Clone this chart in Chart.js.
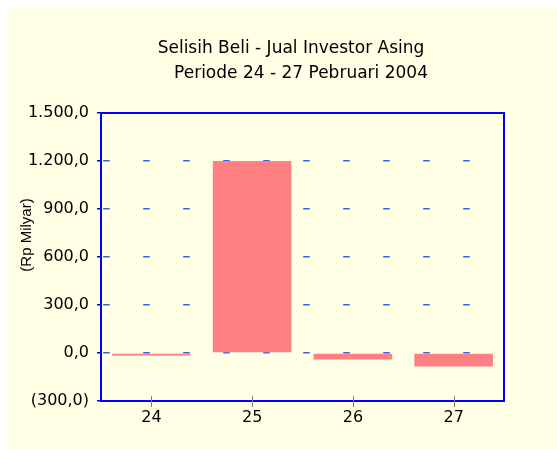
<!DOCTYPE html>
<html><head><meta charset="utf-8">
<script src="https://cdn.jsdelivr.net/npm/chart.js@4"></script>
<style>
html,body{margin:0;padding:0;background:#ffffff;}
#wrap{position:absolute;left:8px;top:8px;width:549px;height:441px;background:#FFFFE6;}
canvas{display:block;}
</style></head>
<body>
<div id="wrap"><canvas id="c" width="549" height="441"></canvas></div>
<script>
const categories = ['24', '25', '26', '27'];
const values = [-15, 1200, -40, -84];
const yMin = -300, yMax = 1500, yStep = 300;
const titleLines = ['Selisih Beli - Jual Investor Asing', 'Periode 24 - 27 Pebruari 2004'];
const yAxisLabel = '(Rp Milyar)';

function fmt(v) {
  const a = Math.abs(v);
  const parts = a.toFixed(1).split('.');
  const s = parts[0].replace(/\B(?=(\d{3})+$)/g, '.') + ',' + parts[1];
  return v < 0 ? '(' + s + ')' : s;
}

const FONT = '"DejaVu Sans", sans-serif';

const decor = {
  id: 'decor',
  afterDraw(chart) {
    const {ctx, chartArea: a, scales} = chart;
    ctx.save();
    // frame
    ctx.strokeStyle = '#0000ff';
    ctx.lineWidth = 2;
    ctx.strokeRect(a.left, a.top, a.right - a.left, a.bottom - a.top);
    // x tick marks crossing the axis
    ctx.strokeStyle = '#808080';
    ctx.lineWidth = 1;
    const xs = scales.x;
    xs.ticks.forEach((t, i) => {
      const x = Math.round(xs.getPixelForTick(i)) + 0.5;
      ctx.beginPath();
      ctx.moveTo(x, a.bottom - 5);
      ctx.lineTo(x, a.bottom + 6);
      ctx.stroke();
    });
    // title
    const cx = (a.left + a.right) / 2;
    ctx.fillStyle = '#000000';
    ctx.font = '17px ' + FONT;
    ctx.textAlign = 'center';
    ctx.textBaseline = 'alphabetic';
    ctx.fillText(titleLines[0], cx - 11.5, 44.7);
    ctx.fillText(titleLines[1], cx - 1.5, 70.3);
    // y axis label
    ctx.translate(a.left - 74.5, a.top + 122);
    ctx.rotate(-Math.PI / 2);
    ctx.font = '15px "Liberation Sans", Arial, sans-serif';
    ctx.textBaseline = 'middle';
    ctx.fillText(yAxisLabel, 0, 0);
    ctx.restore();
  }
};

new Chart(document.getElementById('c'), {
  type: 'bar',
  data: {
    labels: categories,
    datasets: [{
      data: values,
      backgroundColor: '#FF8080',
      borderWidth: 0,
      barPercentage: 0.78,
      categoryPercentage: 1.0
    }]
  },
  options: {
    responsive: false,
    animation: false,
    devicePixelRatio: 1,
    layout: { padding: { top: 105, right: 53, bottom: 0, left: 0 } },
    plugins: { legend: { display: false }, tooltip: { enabled: false }, title: { display: false } },
    scales: {
      x: {
        grid: { display: true, drawOnChartArea: false, drawTicks: false },
        border: { color: '#0000ff', width: 2 },
        ticks: { font: { family: FONT, size: 16 }, color: '#000000', padding: 7 },
        afterFit(s) { s.width = s.width; s.height = 48; }
      },
      y: {
        min: yMin, max: yMax,
        ticks: { stepSize: yStep, callback: (v) => fmt(v), font: { family: FONT, size: 16 }, color: '#000000', padding: 8 },
        grid: { color: '#3a5fe8', lineWidth: 1.5, tickLength: 4, tickColor: '#0000ff', tickWidth: 1.5, tickBorderDash: [] },
        border: { color: '#0000ff', width: 2, dash: [6.5, 33.5], dashOffset: 38.8 },
        afterFit(s) { s.width = 93; }
      }
    }
  },
  plugins: [decor]
});
</script>
</body></html>
